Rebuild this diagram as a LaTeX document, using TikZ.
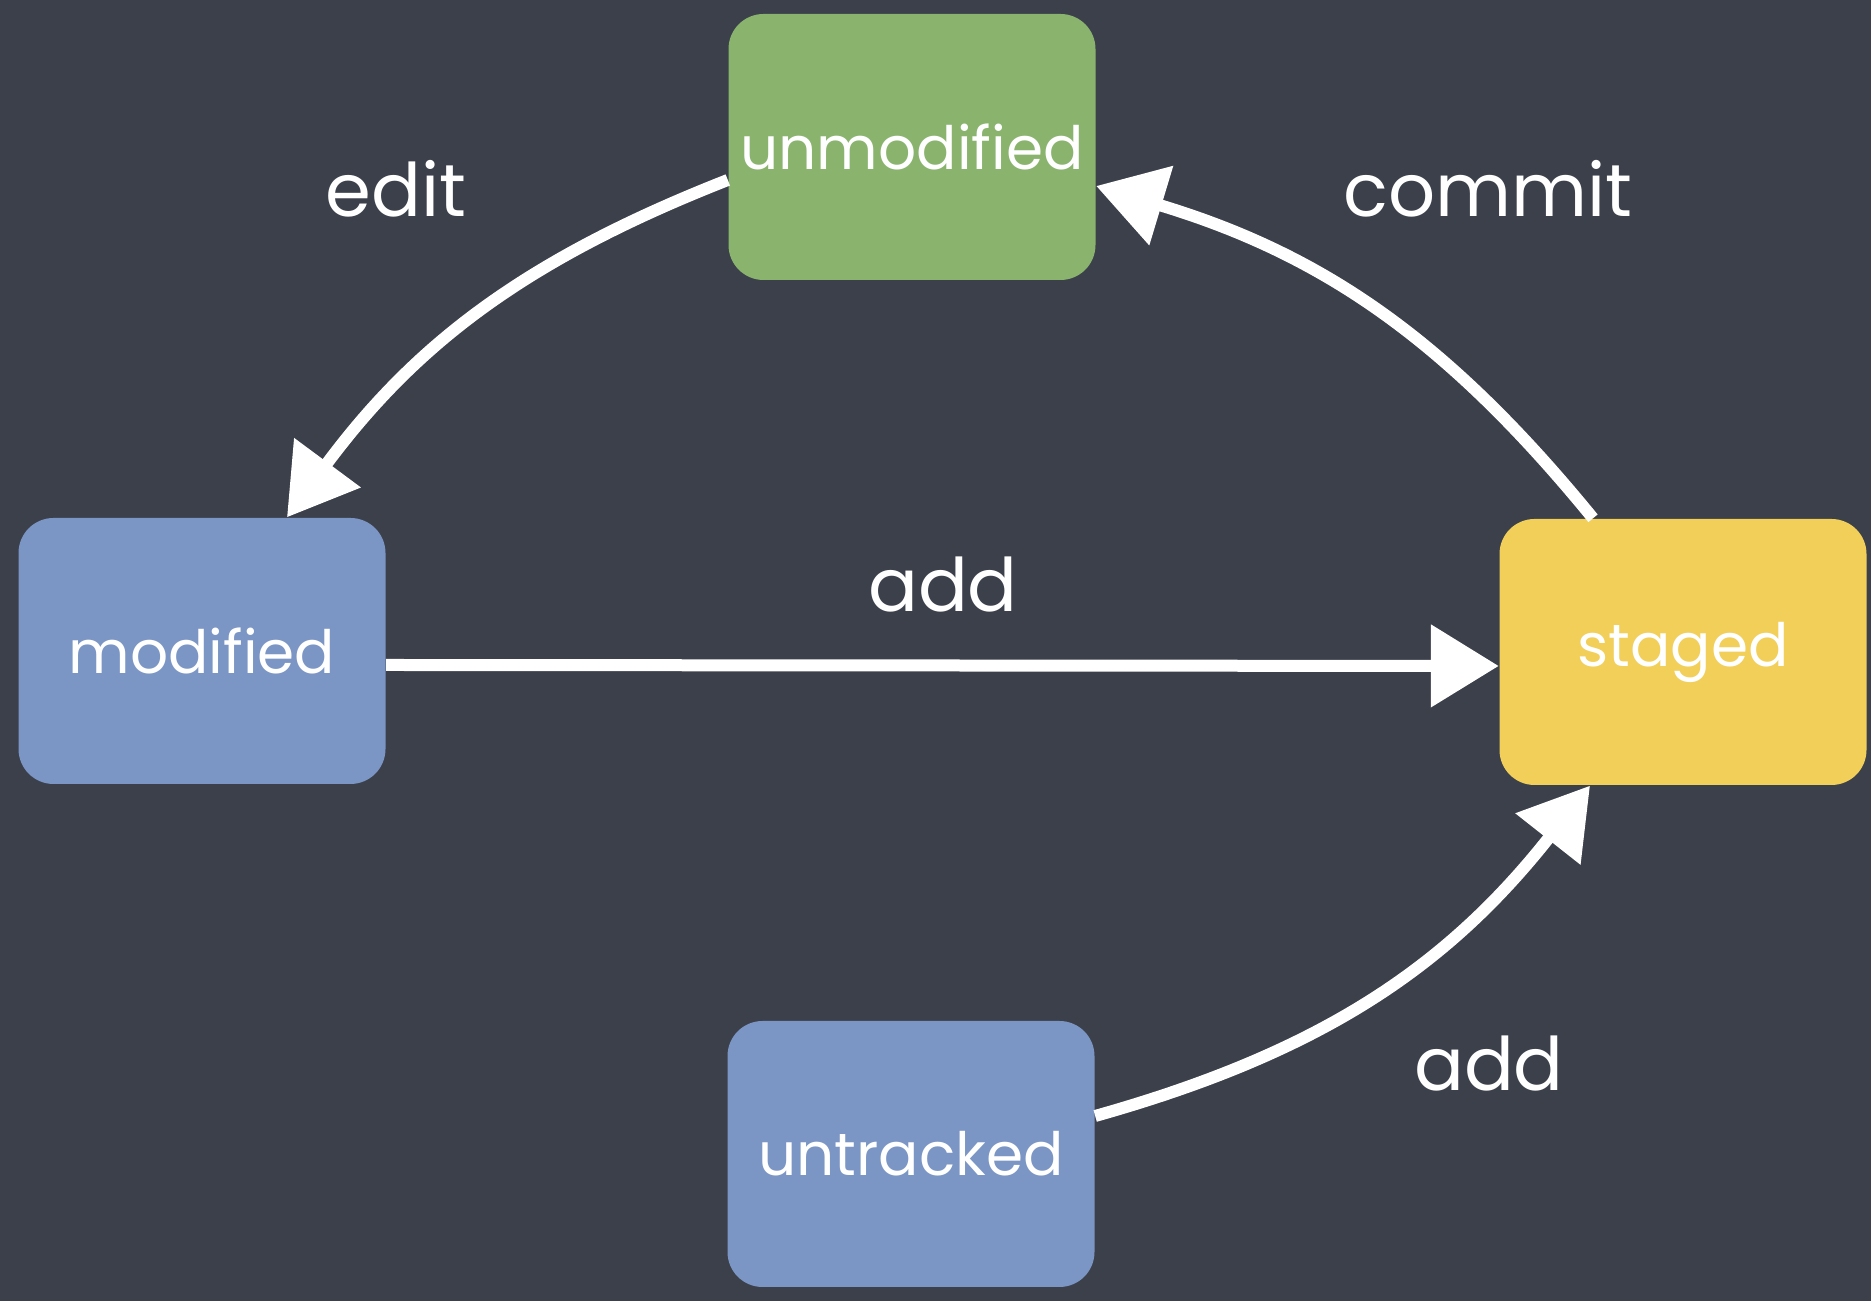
\documentclass[tikz,border=0pt]{standalone}
\usepackage{fontspec}
\setmainfont{Poppins}
\usetikzlibrary{arrows.meta}
\definecolor{board}{HTML}{3B404B}
\definecolor{stgreen}{HTML}{8AB46E}
\definecolor{stblue}{HTML}{7B96C4}
\definecolor{styellow}{HTML}{F1CF58}

\begin{document}
\begin{tikzpicture}[x=0.1mm,y=0.1mm]

  \fill[board] (0,0) rectangle (1871,1301);
  \useasboundingbox (0,0) rectangle (1871,1301);

  \begin{scope}[every node/.style={rectangle,rounded corners=3.5mm,minimum width=36.7mm,
      minimum height=26.6mm,inner sep=0pt,text=white,font=\fontsize{17}{20}\selectfont}]
    \node[fill=stgreen]  (unmod)  at (912,1154) {unmodified};
    \node[fill=stblue]   (mod)    at (202,650)  {modified};
    \node[fill=styellow] (staged) at (1683,649) {staged};
    \node[fill=stblue]   (untr)   at (911,147)  {untracked};
  \end{scope}

  \begin{scope}[every node/.style={text=white,font=\fontsize{21}{24}\selectfont}]
    \node (edit)    at (396,1112) {edit};
    \node (commit)  at (1488,1112) {commit};
    \node (addmid)  at (943,716)  {add};
    \node (addlow)  at (1489,237) {add};
  \end{scope}

  \begin{scope}[every edge/.style={draw=white,line width=1.2mm,
      -{Triangle[length=6.8mm,width=8mm]}}]
    \path ([yshift=-3.3mm]unmod.west) edge[bend right=16] ([xshift=8.5mm]mod.north);
    \path ([xshift=-9mm]staged.north) edge[bend right=17] ([yshift=-3.9mm]unmod.east);
    \path ([yshift=-1.4mm]mod.east)   edge ([yshift=-1.4mm]staged.west);
    \path ([yshift=3.8mm]untr.east)   edge[bend right=18] ([xshift=-9.3mm]staged.south);
  \end{scope}

\end{tikzpicture}
\end{document}
